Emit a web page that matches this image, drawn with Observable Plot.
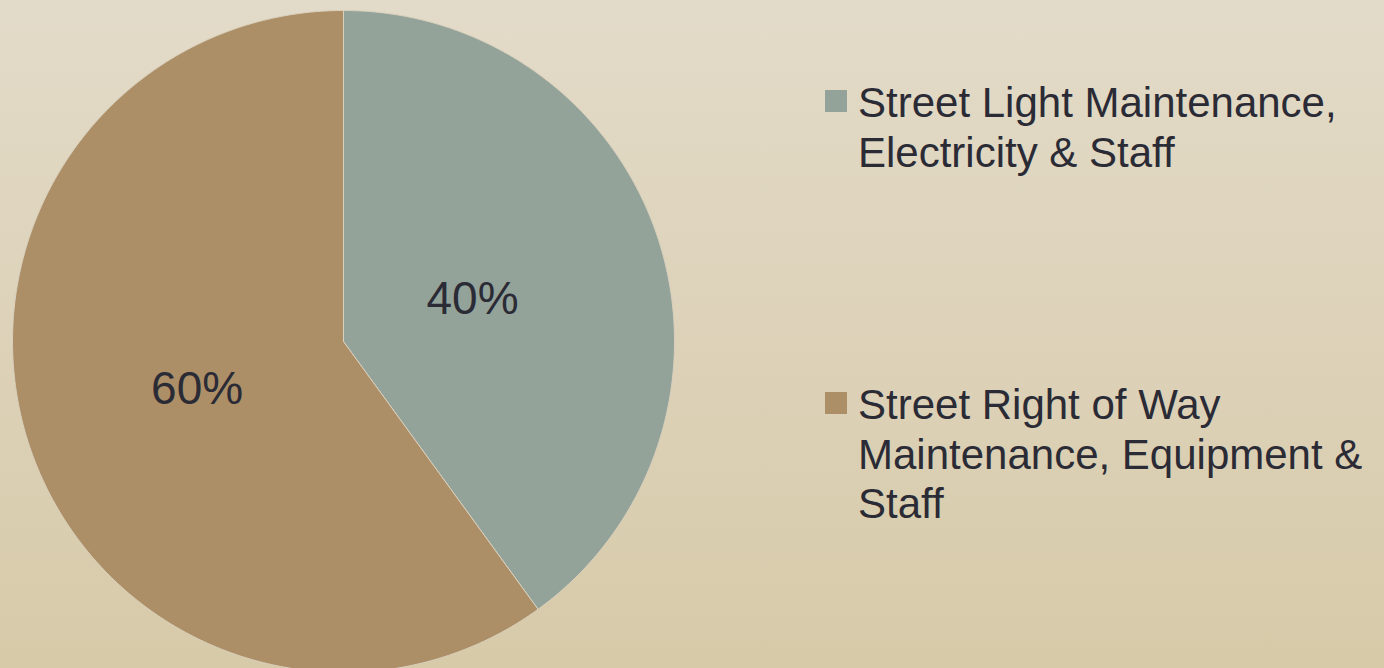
<!DOCTYPE html>
<html>
<head>
<meta charset="utf-8">
<script src="https://cdn.jsdelivr.net/npm/d3@7"></script>
<script src="https://cdn.jsdelivr.net/npm/@observablehq/plot@0.6"></script>
<style>
  html, body { margin: 0; padding: 0; }
  body {
    width: 1384px; height: 668px; overflow: hidden; position: relative;
    background: linear-gradient(to bottom, #e3dbc9, #d7caa9);
    font-family: "Liberation Sans", Arial, sans-serif;
  }
  #chart { position: absolute; left: 0; top: 0; }
  .legend-item { position: absolute; left: 825px; width: 560px; }
  .legend-swatch { position: absolute; left: 0; width: 22px; height: 22px; }
  .legend-text {
    position: absolute; left: 33px; width: 525px;
    font-size: 42px; line-height: 49.5px; color: #2b2b36;
    font-family: "Liberation Sans", Arial, sans-serif;
  }
</style>
</head>
<body>
<div id="chart"></div>
<div id="legend"></div>
<script>
// ---- data ----
const categories = [
  "Street Light Maintenance, Electricity & Staff",
  "Street Right of Way Maintenance, Equipment & Staff"
];
const shares = [40, 60];
const sliceLabels = ["40%", "60%"];
const colors = ["#93a39a", "#ad8f67"];

// ---- layout constants ----
const labelRadius = [0.41, 0.465];
const legendTops = [78, 380];

// ---- geometry from data ----
const total = d3.sum(shares);
const slices = [];
let acc = 0;
shares.forEach((v, i) => {
  const a0 = acc / total * 2 * Math.PI;
  acc += v;
  const a1 = acc / total * 2 * Math.PI;
  slices.push({key: categories[i], a0, a1, label: sliceLabels[i], r: labelRadius[i]});
});

const pts = [];
for (const s of slices) {
  pts.push({key: s.key, x: 0, y: 0});
  const n = Math.max(2, Math.ceil((s.a1 - s.a0) / (Math.PI / 360)));
  for (let k = 0; k <= n; k++) {
    const a = s.a0 + (s.a1 - s.a0) * k / n;
    pts.push({key: s.key, x: Math.sin(a), y: Math.cos(a)});
  }
  pts.push({key: s.key, x: 0, y: 0});
}

const labels = slices.map(s => {
  const m = (s.a0 + s.a1) / 2;
  return {label: s.label, x: s.r * Math.sin(m), y: s.r * Math.cos(m)};
});

const chart = Plot.plot({
  width: 1384,
  height: 668,
  margin: 0,
  style: {background: "transparent", overflow: "visible"},
  x: {domain: [-1, 1], range: [12, 674], axis: null},
  y: {domain: [-1, 1], range: [672, 10], axis: null},
  color: {domain: categories, range: colors},
  marks: [
    Plot.line(pts, {x: "x", y: "y", z: "key", fill: "key", stroke: "#d9d0bd", strokeWidth: 1, curve: "linear"}),
    Plot.text(labels, {
      x: "x", y: "y", text: "label",
      fontSize: 46, fill: "#2b2b36",
      fontFamily: "'Liberation Sans', Arial, sans-serif"
    })
  ]
});
document.getElementById("chart").appendChild(chart);

// ---- legend ----
const legend = document.getElementById("legend");
categories.forEach((c, i) => {
  const item = document.createElement("div");
  item.className = "legend-item";
  item.style.top = legendTops[i] + "px";
  const sw = document.createElement("div");
  sw.className = "legend-swatch";
  sw.style.background = colors[i];
  sw.style.top = "12px";
  const tx = document.createElement("div");
  tx.className = "legend-text";
  tx.textContent = c;
  item.appendChild(sw);
  item.appendChild(tx);
  legend.appendChild(item);
});
</script>
</body>
</html>
